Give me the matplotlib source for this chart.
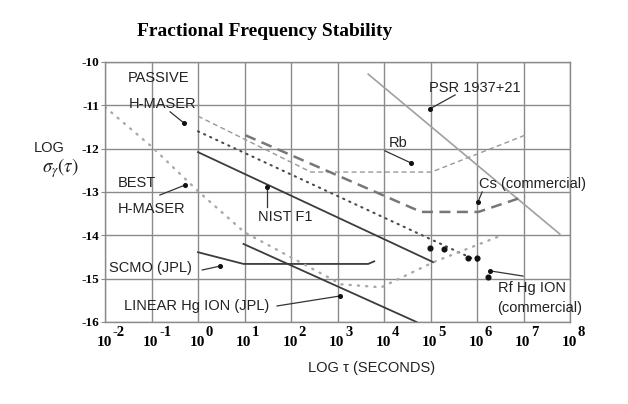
import matplotlib
matplotlib.use("Agg")
import matplotlib.pyplot as plt

# ---- data (log10 tau, log10 sigma) ----
x_ticks = list(range(-2, 9))
x_exponents = ["-2", "-1", "0", "1", "2", "3", "4", "5", "6", "7", "8"]
y_ticks = list(range(-16, -9))
y_ticklabels = ["-16", "-15", "-14", "-13", "-12", "-11", "-10"]

nist_x = [0.0, 5.06]
nist_y = [-12.08, -14.62]
scmo_x = [0.0, 0.98, 3.66, 3.79]
scmo_y = [-14.39, -14.66, -14.66, -14.6]
linhg_x = [0.98, 4.7]
linhg_y = [-14.2, -16.0]
psr_x = [3.66, 7.78]
psr_y = [-10.28, -13.97]
rb_x = [0.0, 2.43, 5.02, 7.03]
rb_y = [-11.25, -12.54, -12.54, -11.69]
cs_x = [1.02, 4.8, 6.03, 7.03]
cs_y = [-11.69, -13.46, -13.46, -13.1]
passive_x = [0.0, 6.03]
passive_y = [-11.6, -14.6]
best_x = [-2.0, -1.0, 0.0, 1.0, 3.08, 3.94, 5.06, 6.53]
best_y = [-11.04, -11.95, -12.98, -13.93, -15.13, -15.2, -14.62, -14.0]
rfhg_x = [4.99, 5.28, 5.8, 5.99, 6.23]
rfhg_y = [-14.3, -14.32, -14.53, -14.53, -14.97]

plt.rcParams["mathtext.fontset"] = "stix"
fig = plt.figure(figsize=(6.28, 4.04), dpi=100)
ax = fig.add_axes([105/628, 1-322/404, 465/628, 260/404])
ax.set_xlim(-2, 8)
ax.set_ylim(-16, -10)

grid_c = "#8a8a8a"
ax.set_xticks(x_ticks)
ax.set_yticks(y_ticks)
ax.grid(True, color=grid_c, lw=1.0)
for s in ax.spines.values():
    s.set_color(grid_c)
    s.set_linewidth(1.0)
ax.tick_params(axis="x", length=0, labelbottom=False)
ax.tick_params(axis="y", length=3, color=grid_c, pad=1)
ax.set_yticklabels(y_ticklabels, fontfamily="Liberation Serif",
                   fontweight="bold", fontsize=9.5)

serif = "Liberation Serif"
for xv, ex in zip(x_ticks, x_exponents):
    ax.annotate("10", xy=(xv, 0), xycoords=("data", "axes fraction"),
                xytext=(5, -21*0.72), textcoords="offset points",
                ha="right", va="center", fontfamily=serif,
                fontweight="bold", fontsize=11)
    ax.annotate(ex, xy=(xv, 0), xycoords=("data", "axes fraction"),
                xytext=(5.5, -10*0.72), textcoords="offset points",
                ha="left", va="center", fontfamily=serif,
                fontweight="bold", fontsize=10.5)

dark = "#3c3c3c"
ax.plot(nist_x, nist_y, color=dark, lw=1.3)
ax.plot(scmo_x, scmo_y, color=dark, lw=1.3)
ax.plot(linhg_x, linhg_y, color=dark, lw=1.3)
ax.plot(psr_x, psr_y, color="#a0a0a0", lw=1.2)
ax.plot(rb_x, rb_y, color="#999999", lw=1.0, linestyle=(0, (3.6, 2.4)))
ax.plot(cs_x, cs_y, color="#777777", lw=1.8, linestyle=(0, (4.4, 2.6)))
ax.plot(passive_x, passive_y, color="#4a4a4a", lw=1.5,
        linestyle=(0, (0.6, 2.6)), dash_capstyle="round")
ax.plot(best_x, best_y, color="#a8a8a8", lw=1.7,
        linestyle=(0, (0.5, 3.0)), dash_capstyle="round")
ax.plot(rfhg_x, rfhg_y, "o", color="#111111", ms=3.4)

sans = "Liberation Sans"
fs = 10.5
def lbl(x, y, s, ha="center"):
    ax.text(x, y, s, ha=ha, va="center", fontfamily=sans, fontsize=fs,
            color="#222222")

def arrow(x0, y0, x1, y1):
    ax.plot([x0, x1], [y0, y1], color="#333333", lw=0.9)
    ax.plot([x1], [y1], "o", color="#111111", ms=2.6)

lbl(-0.84, -10.37, "PASSIVE")
lbl(-0.77, -10.97, "H-MASER")
arrow(-0.60, -11.15, -0.30, -11.41)
lbl(-1.31, -12.79, "BEST")
lbl(-1.0, -13.39, "H-MASER")
arrow(-0.82, -13.07, -0.28, -12.84)
lbl(1.87, -13.58, "NIST F1")
arrow(1.48, -13.35, 1.48, -12.88)
lbl(4.3, -11.87, "Rb")
arrow(4.02, -12.05, 4.58, -12.33)
lbl(4.97, -10.6, "PSR 1937+21", ha="left")
arrow(5.53, -10.76, 4.99, -11.08)
lbl(6.04, -12.82, "Cs (commercial)", ha="left")
arrow(6.11, -13.0, 6.02, -13.23)
lbl(-1.03, -14.75, "SCMO (JPL)")
arrow(0.09, -14.8, 0.47, -14.71)
lbl(-0.03, -15.63, "LINEAR Hg ION (JPL)")
arrow(1.70, -15.63, 3.05, -15.40)
lbl(6.45, -15.22, "Rf Hg ION", ha="left")
lbl(6.43, -15.67, "(commercial)", ha="left")
arrow(6.99, -14.94, 6.28, -14.82)

fig.text(265/628, 1-32/404, "Fractional Frequency Stability",
         ha="center", va="center", fontfamily=serif, fontweight="bold",
         fontsize=14)
fig.text(49/628, 1-148/404, "LOG", ha="center", va="center",
         fontfamily=sans, fontsize=fs, color="#222222")
fig.text(60/628, 1-168/404, r"$\sigma_\gamma(\tau)$", ha="center",
         va="center", fontsize=13.5, color="#222222")
fig.text(372/628, 1-368/404, "LOG τ (SECONDS)", ha="center", va="center",
         fontfamily=sans, fontsize=fs, color="#222222")

fig.savefig("out.png", dpi=100)
